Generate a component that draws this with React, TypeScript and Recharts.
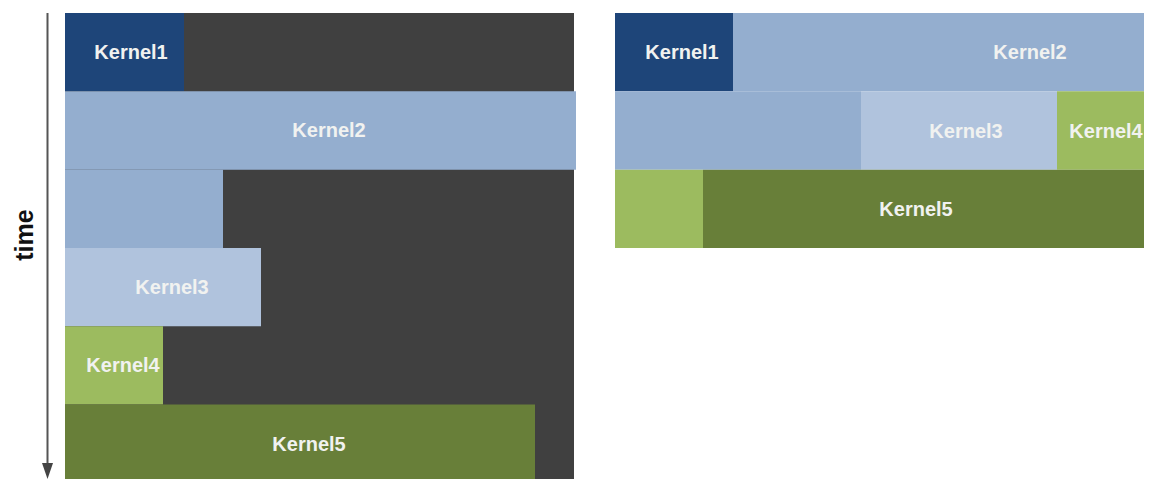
import { ComposedChart, XAxis, YAxis, ReferenceArea, Scatter } from "recharts";

// time units along the x axis, rows along y (row 0 at the top)
interface Segment { kernel: string; row: number; start: number; end: number }
interface LabelPoint { name: string; t: number; y: number }

const kernels = ["Kernel1", "Kernel2", "Kernel3", "Kernel4", "Kernel5"];

// serial execution (left panel)
const serialSegments: Segment[] = [
  { kernel: "Kernel1", row: 0, start: 0, end: 119 },
  { kernel: "Kernel2", row: 1, start: 0, end: 511 },
  { kernel: "Kernel2", row: 2, start: 0, end: 158 },
  { kernel: "Kernel3", row: 3, start: 0, end: 196 },
  { kernel: "Kernel4", row: 4, start: 0, end: 98 },
  { kernel: "Kernel5", row: 5, start: 0, end: 470 },
];
const serialLabels: LabelPoint[] = [
  { name: "Kernel1", t: 66, y: 0.5 },
  { name: "Kernel2", t: 264, y: 1.5 },
  { name: "Kernel3", t: 107, y: 3.5 },
  { name: "Kernel4", t: 58, y: 4.5 },
  { name: "Kernel5", t: 244, y: 5.5 },
];
const serialCapacity = 509;
const serialDomain = [0, 511];
const serialRows = 5.95;

// concurrent execution (right panel)
const concurrentSegments: Segment[] = [
  { kernel: "Kernel1", row: 0, start: 0, end: 118 },
  { kernel: "Kernel2", row: 0, start: 118, end: 529 },
  { kernel: "Kernel2", row: 1, start: 0, end: 246 },
  { kernel: "Kernel3", row: 1, start: 246, end: 442 },
  { kernel: "Kernel4", row: 1, start: 442, end: 529 },
  { kernel: "Kernel4", row: 2, start: 0, end: 88 },
  { kernel: "Kernel5", row: 2, start: 88, end: 529 },
];
const concurrentLabels: LabelPoint[] = [
  { name: "Kernel1", t: 67, y: 0.5 },
  { name: "Kernel2", t: 415, y: 0.5 },
  { name: "Kernel3", t: 351, y: 1.5 },
  { name: "Kernel4", t: 491, y: 1.5 },
  { name: "Kernel5", t: 301, y: 2.5 },
];
const concurrentDomain = [0, 529];
const concurrentRows = 3;

const colors: Record<string, string> = {
  Kernel1: "#1e4579",
  Kernel2: "#94aecf",
  Kernel3: "#b0c3dd",
  Kernel4: "#9cbb5f",
  Kernel5: "#687f39",
};

const FONT = "'Liberation Sans', Arial, sans-serif";

function KernelLabel(props: any) {
  const { cx, cy, payload } = props;
  if (cx == null || cy == null) return <g />;
  return (
    <text x={cx} y={cy} dy={7} textAnchor="middle" fill="#f1f2f0" fontFamily={FONT} fontWeight="bold" fontSize={20}>
      {payload.name}
    </text>
  );
}

function Panel({ segments, labels, xDomain, rows, width, height, background }: {
  segments: Segment[]; labels: LabelPoint[]; xDomain: number[]; rows: number;
  width: number; height: number; background?: number;
}) {
  return (
    <ComposedChart width={width} height={height} margin={{ top: 0, right: 0, bottom: 0, left: 0 }}>
      <XAxis type="number" dataKey="t" domain={xDomain} allowDataOverflow hide />
      <YAxis type="number" dataKey="y" domain={[0, rows]} reversed allowDataOverflow hide />
      {background != null && (
        <ReferenceArea x1={0} x2={background} y1={0} y2={rows} fill="#404040" fillOpacity={1} stroke="none" ifOverflow="hidden" />
      )}
      {segments.map((s, i) => (
        <ReferenceArea
          key={i}
          x1={s.start}
          x2={s.end}
          y1={s.row}
          y2={s.row + 1}
          fill={colors[s.kernel]}
          fillOpacity={1}
          stroke="none"
          ifOverflow="hidden"
        />
      ))}
      <Scatter data={labels} shape={<KernelLabel />} isAnimationActive={false} />
    </ComposedChart>
  );
}

export default function App() {
  return (
    <div style={{ position: "absolute", left: 0, top: 0, width: 1149, height: 479, background: "#fff", overflow: "hidden" }}>
      <svg width={65} height={479} style={{ position: "absolute", left: 0, top: 0 }}>
        <line x1={47.5} y1={13} x2={47.5} y2={466} stroke="#555" strokeWidth={2} />
        <polygon points="42,463 53,463 47.5,479" fill="#444" />
        <text
          x={24}
          y={235}
          dy={9}
          transform="rotate(-90 24 235)"
          textAnchor="middle"
          fontFamily={FONT}
          fontWeight="bold"
          fontSize={25}
          fill="#111"
        >
          time
        </text>
      </svg>
      <div style={{ position: "absolute", left: 65, top: 13 }}>
        <Panel
          segments={serialSegments}
          labels={serialLabels}
          xDomain={serialDomain}
          rows={serialRows}
          width={511}
          height={466}
          background={serialCapacity}
        />
      </div>
      <div style={{ position: "absolute", left: 615, top: 13 }}>
        <Panel
          segments={concurrentSegments}
          labels={concurrentLabels}
          xDomain={concurrentDomain}
          rows={concurrentRows}
          width={529}
          height={235}
        />
      </div>
    </div>
  );
}
